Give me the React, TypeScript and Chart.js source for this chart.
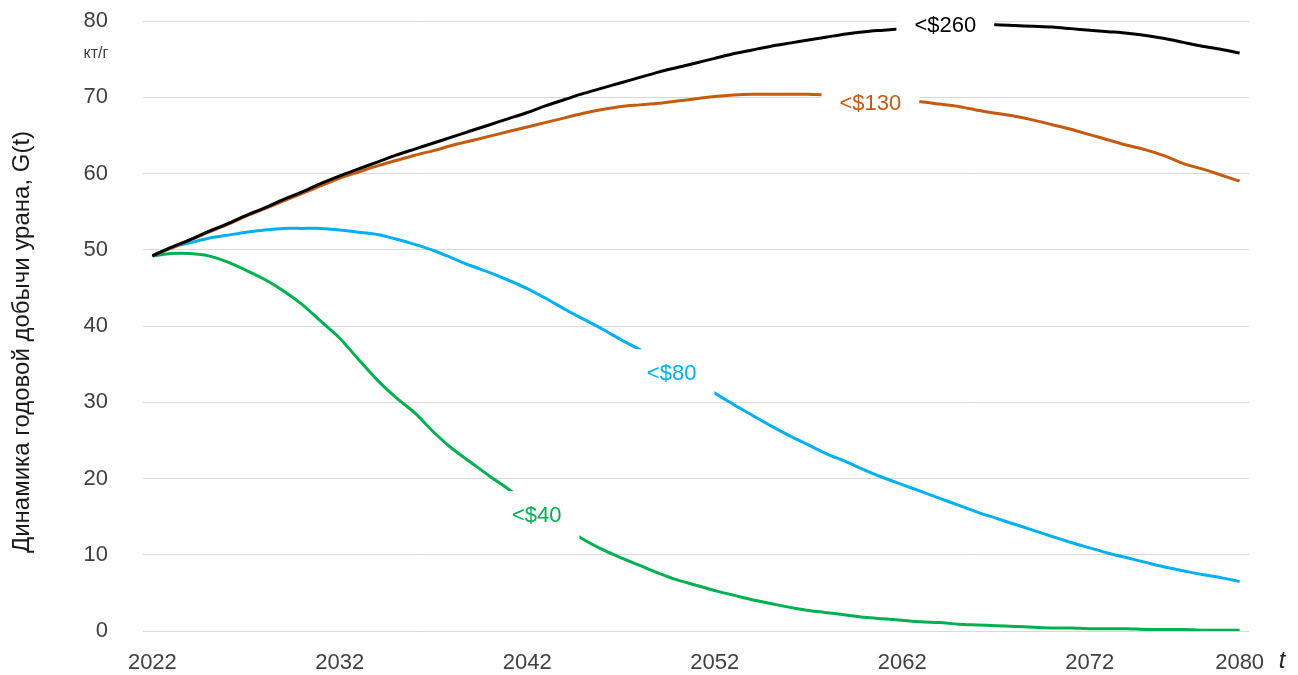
import React, { useEffect, useRef } from "react";
import { Chart, registerables } from "chart.js";

Chart.register(...registerables);

const firstYear = 2022;
const lastYear = 2080;
const years: number[] = [];
for (let yr = firstYear; yr <= lastYear; yr++) years.push(yr);

const xTickYears = [2022, 2032, 2042, 2052, 2062, 2072, 2080];
const yTicks = [0, 10, 20, 30, 40, 50, 60, 70, 80];

const under260 = [
  49.2, 50.3, 51.3, 52.4, 53.4, 54.5, 55.5, 56.6, 57.6, 58.7,
  59.7, 60.6, 61.5, 62.4, 63.2, 64.0, 64.8, 65.6, 66.4, 67.2,
  68.0, 68.9, 69.7, 70.5, 71.2, 71.9, 72.6, 73.3, 73.9, 74.5,
  75.1, 75.7, 76.2, 76.7, 77.1, 77.5, 77.9, 78.3, 78.6, 78.8,
  79.0, 79.2, 79.3, 79.4, 79.5, 79.5, 79.4, 79.3, 79.2, 79.0,
  78.8, 78.6, 78.4, 78.1, 77.7, 77.2, 76.7, 76.3, 75.8,
];

const under130 = [
  49.2, 50.2, 51.3, 52.3, 53.3, 54.4, 55.4, 56.4, 57.4, 58.4,
  59.4, 60.2, 61.0, 61.7, 62.4, 63.0, 63.7, 64.3, 64.9, 65.5,
  66.1, 66.7, 67.3, 67.9, 68.4, 68.8, 69.0, 69.2, 69.5, 69.8,
  70.1, 70.3, 70.4, 70.4, 70.4, 70.4, 70.3, 70.2, 70.0, 69.8,
  69.6, 69.4, 69.1, 68.8, 68.3, 67.9, 67.5, 67.0, 66.4, 65.8,
  65.1, 64.4, 63.7, 63.1, 62.3, 61.3, 60.6, 59.8, 59.0,
];

const under80 = [
  49.2, 50.3, 50.9, 51.5, 51.9, 52.3, 52.6, 52.8, 52.8, 52.8,
  52.6, 52.3, 52.0, 51.4, 50.7, 49.9, 48.9, 47.9, 47.0, 46.0,
  44.9, 43.6, 42.2, 40.9, 39.6, 38.2, 36.9, 35.5, 34.1, 32.6,
  31.2, 29.7, 28.3, 26.9, 25.6, 24.4, 23.2, 22.2, 21.1, 20.1,
  19.2, 18.3, 17.4, 16.5, 15.6, 14.8, 14.0, 13.2, 12.4, 11.6,
  10.9, 10.2, 9.6, 9.0, 8.4, 7.9, 7.4, 7.0, 6.5,
];

const under40 = [
  49.2, 49.5, 49.5, 49.2, 48.4, 47.3, 46.1, 44.6, 42.8, 40.6,
  38.4, 35.6, 32.9, 30.6, 28.6, 26.1, 23.9, 22.1, 20.3, 18.6,
  16.9, 15.2, 13.6, 12.0, 10.7, 9.6, 8.6, 7.6, 6.7, 6.0,
  5.3, 4.7, 4.1, 3.6, 3.1, 2.7, 2.4, 2.1, 1.8, 1.6,
  1.4, 1.2, 1.1, 0.9, 0.8, 0.7, 0.6, 0.5, 0.4, 0.4,
  0.3, 0.3, 0.3, 0.2, 0.2, 0.2, 0.1, 0.1, 0.1,
];

const seriesNames = ["<$260", "<$130", "<$80", "<$40"];
const seriesValues = [under260, under130, under80, under40];
const seriesColors = ["#000000", "#C55A11", "#00B0F0", "#00B050"];

// label anchors (data coordinates of the text centre)
const labelYears = [2064.3, 2060.3, 2049.7, 2042.5];
const labelValues = [79.5, 69.2, 33.8, 15.2];

const yTitle = "Динамика годовой добычи урана, G(t)";
const unitText = "кт/г";
const xTitle = "t";

const FONT = '"Liberation Sans", Arial, sans-serif';

const labelsPlugin = {
  id: "lineLabels",
  afterDatasetsDraw(chart: any) {
    const { ctx, scales } = chart;
    const xs = scales.x;
    const ys = scales.y;
    ctx.save();
    ctx.font = `22px ${FONT}`;
    ctx.textAlign = "center";
    ctx.textBaseline = "middle";
    seriesNames.forEach((name, i) => {
      const px = xs.getPixelForValue(labelYears[i]);
      const py = ys.getPixelForValue(labelValues[i]);
      const w = ctx.measureText(name).width;
      ctx.fillStyle = "#ffffff";
      ctx.fillRect(px - w / 2 - 18, py - 24, w + 36, 48);
      ctx.fillStyle = seriesColors[i];
      ctx.fillText(name, px, py + 1);
    });
    ctx.restore();
  },
  afterDraw(chart: any) {
    const { ctx, chartArea, scales } = chart;
    ctx.save();
    ctx.fillStyle = "#1a1a1a";
    ctx.font = `24px ${FONT}`;
    ctx.textAlign = "center";
    ctx.textBaseline = "middle";
    ctx.translate(22, (chartArea.top + chartArea.bottom) / 2 + 16);
    ctx.rotate(-Math.PI / 2);
    ctx.fillText(yTitle, 0, 0);
    ctx.restore();

    ctx.save();
    ctx.fillStyle = "#404040";
    ctx.font = `16px ${FONT}`;
    ctx.textAlign = "center";
    ctx.textBaseline = "middle";
    const y80 = scales.y.getPixelForValue(80);
    ctx.fillText(unitText, 96, y80 + 33);

    ctx.fillStyle = "#262626";
    ctx.font = `italic 24px ${FONT}`;
    ctx.fillText(xTitle, 1282, 661);
    ctx.restore();
  },
};

export default function App() {
  const ref = useRef<HTMLCanvasElement | null>(null);

  useEffect(() => {
    if (!ref.current) return;
    const datasets = seriesNames.map((name, i) => ({
      label: name,
      data: years.map((yr, j) => ({ x: yr, y: seriesValues[i][j] })),
      borderColor: seriesColors[i],
      backgroundColor: seriesColors[i],
      borderWidth: 3,
      pointRadius: 0,
      tension: 0.25,
      fill: false,
    }));
    const chart = new Chart(ref.current, {
      type: "line",
      data: { datasets },
      options: {
        responsive: false,
        animation: false,
        events: [],
        layout: { padding: { top: 21, right: 49, bottom: 0, left: 0 } },
        plugins: { legend: { display: false }, tooltip: { enabled: false } },
        scales: {
          x: {
            type: "linear",
            min: firstYear - 0.5,
            max: lastYear + 0.5,
            afterBuildTicks: (axis: any) => {
              axis.ticks = xTickYears.map((v) => ({ value: v }));
            },
            afterFit: (axis: any) => {
              axis.height = 44;
              axis.paddingLeft = 0;
              axis.paddingRight = 0;
            },
            grid: { display: false, drawTicks: false },
            border: { display: false },
            ticks: {
              autoSkip: false,
              maxRotation: 0,
              padding: 19,
              color: "#404040",
              font: { family: FONT, size: 22 },
              callback: (v: any) => String(v),
            },
          },
          y: {
            type: "linear",
            min: 0,
            max: 80,
            afterBuildTicks: (axis: any) => {
              axis.ticks = yTicks.map((v) => ({ value: v }));
            },
            afterFit: (axis: any) => {
              axis.width = 143;
              axis.paddingTop = 0;
              axis.paddingBottom = 0;
            },
            grid: { color: "#D9D9D9", lineWidth: 1, drawTicks: false },
            border: { display: false },
            ticks: {
              padding: 35,
              color: "#404040",
              font: { family: FONT, size: 22 },
            },
          },
        },
      },
      plugins: [labelsPlugin],
    });
    return () => chart.destroy();
  }, []);

  return (
    <div style={{ position: "fixed", left: 0, top: 0, width: 1298, height: 675, background: "#fff" }}>
      <canvas ref={ref} width={1298} height={675} />
    </div>
  );
}
